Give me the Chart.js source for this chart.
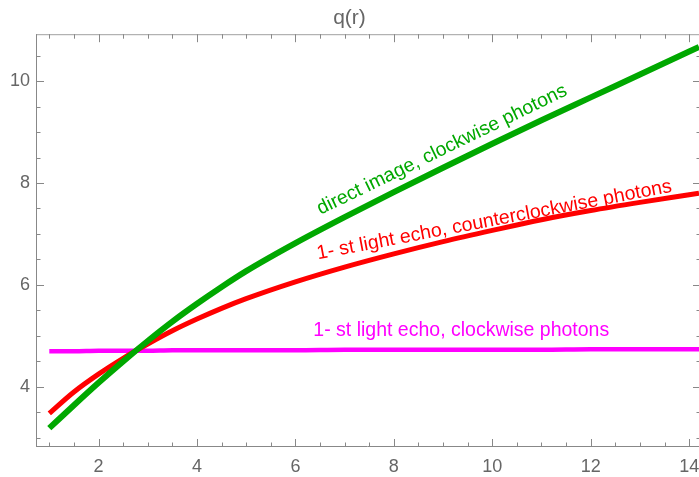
<!DOCTYPE html>
<html>
<head>
<meta charset="utf-8">
<script src="https://cdn.jsdelivr.net/npm/chart.js@4/dist/chart.umd.min.js"></script>
<style>
    html, body { margin: 0; padding: 0; background: #fff; }
    #wrap { width: 699px; height: 477px; }
</style>
</head>
<body>
<div id="wrap"><canvas id="myChart"></canvas></div>
<script>
// values
r_ls = [1, 1.5, 2, 2.5, 3, 3.5, 4, 4.5, 5, 6, 7, 8, 9, 10, 11, 12, 13, 14, 14.2];
direct_ls = [3.19, 3.64, 4.08, 4.5, 4.9, 5.28, 5.63, 5.96, 6.27, 6.82, 7.33, 7.82, 8.3, 8.77, 9.23, 9.68, 10.13, 10.58, 10.67];
echo_ccw_ls = [3.48, 3.9, 4.25, 4.56, 4.84, 5.1, 5.33, 5.54, 5.73, 6.06, 6.35, 6.61, 6.85, 7.07, 7.28, 7.46, 7.62, 7.77, 7.8];
echo_cw_ls = [4.7, 4.7, 4.71, 4.71, 4.71, 4.72, 4.72, 4.72, 4.72, 4.72, 4.73, 4.73, 4.73, 4.73, 4.73, 4.74, 4.74, 4.74, 4.74];
x_ticks = [2, 4, 6, 8, 10, 12, 14];
y_ticks = [4, 6, 8, 10];

labels_ls = ['direct image, clockwise photons', '1- st light echo, counterclockwise photons', '1- st light echo, clockwise photons'];

corlor_ls = ['#00a800', '#ff0000', '#ff00ff'];
var fontFam = "'Liberation Sans', Arial, sans-serif";

function toPts(ys) {
    return r_ls.map((x, i) => ({ x: x, y: ys[i] }));
}

// mathematica style frame with inward ticks (right edge is cut off in the picture)
var framePlugin = {
    id: 'frame',
    afterDatasetsDraw(chart) {
        var ctx = chart.ctx, a = chart.chartArea;
        var xs = chart.scales.x, ys = chart.scales.y;
        ctx.save();
        ctx.lineWidth = 1;
        ctx.strokeStyle = '#a0a0a0';
        ctx.beginPath();
        ctx.moveTo(a.left, a.top + 0.5); ctx.lineTo(a.right, a.top + 0.5);
        ctx.stroke();
        ctx.strokeStyle = '#888';
        ctx.beginPath();
        ctx.moveTo(a.left + 0.5, a.top); ctx.lineTo(a.left + 0.5, a.bottom);
        ctx.moveTo(a.left, a.bottom - 0.5); ctx.lineTo(a.right, a.bottom - 0.5);
        ctx.stroke();
        ctx.strokeStyle = '#888';
        ctx.beginPath();
        for (let v = 1; v <= 14.01; v += 0.5) {
            var px = Math.round(xs.getPixelForValue(v)) + 0.5;
            var len = (v % 2 == 0) ? 8 : 4.5;
            ctx.moveTo(px, a.bottom); ctx.lineTo(px, a.bottom - len);
            ctx.moveTo(px, a.top); ctx.lineTo(px, a.top + len);
        }
        for (let v = 3; v <= 10.51; v += 0.5) {
            var py = Math.round(ys.getPixelForValue(v)) + 0.5;
            var len = (v % 2 == 0) ? 8 : 4.5;
            ctx.moveTo(a.left, py); ctx.lineTo(a.left + len, py);
            ctx.moveTo(a.right + 2, py); ctx.lineTo(a.right + 2 - len, py);
        }
        ctx.stroke();

        // curve labels
        var lab = chart.options.plugins.frame.labels;
        ctx.font = '19.5px ' + fontFam;
        ctx.textAlign = 'center';
        ctx.textBaseline = 'middle';
        lab.forEach(function (l) {
            ctx.save();
            ctx.translate(xs.getPixelForValue(l.x), ys.getPixelForValue(l.y));
            ctx.rotate(-l.angle * Math.PI / 180);
            ctx.fillStyle = l.color;
            ctx.fillText(l.text, 0, 0);
            ctx.restore();
        });
        ctx.restore();
    }
};

var canvas = document.getElementById('myChart');
var data2 = {
    datasets: [
        { label: labels_ls[0], data: toPts(direct_ls), borderColor: corlor_ls[0], borderWidth: 6 },
        { label: labels_ls[1], data: toPts(echo_ccw_ls), borderColor: corlor_ls[1], borderWidth: 5 },
        { label: labels_ls[2], data: toPts(echo_cw_ls), borderColor: corlor_ls[2], borderWidth: 4.5 }
    ]
};

var myChart = new Chart(canvas, {
    type: 'line',
    data: data2,
    options: {
        responsive: true,
        maintainAspectRatio: false,
        animation: false,
        layout: { padding: { left: 0, right: 0, top: 0, bottom: 0 } },
        elements: {
            point: { radius: 0 },
            line: { cubicInterpolationMode: 'monotone', borderCapStyle: 'butt' }
        },
        plugins: {
            legend: { display: false },
            tooltip: { enabled: false },
            title: {
                display: true,
                text: 'q(r)',
                color: '#666',
                font: { family: fontFam, size: 21, weight: 'normal' },
                padding: { top: 6, bottom: 3 }
            },
            frame: {
                labels: [
                    { text: labels_ls[0], x: 8.98, y: 8.65, angle: 25.9, color: corlor_ls[0] },
                    { text: labels_ls[1], x: 10.04, y: 7.27, angle: 10.8, color: corlor_ls[1] },
                    { text: labels_ls[2], x: 9.37, y: 5.11, angle: 0, color: corlor_ls[2] }
                ]
            }
        },
        scales: {
            x: {
                type: 'linear',
                min: 0.73,
                max: 14.2,
                grid: { display: false, drawTicks: false },
                border: { display: false },
                afterBuildTicks: function (s) { s.ticks = x_ticks.map(v => ({ value: v })); },
                afterFit: function (s) { s.height = 30; s.paddingLeft = 0; s.paddingRight = 0; },
                ticks: { color: '#666', padding: 9, maxRotation: 0, autoSkip: false, font: { family: fontFam, size: 18 } }
            },
            y: {
                type: 'linear',
                min: 2.82,
                max: 10.92,
                grid: { display: false, drawTicks: false },
                border: { display: false },
                afterBuildTicks: function (s) { s.ticks = y_ticks.map(v => ({ value: v })); },
                afterFit: function (s) { s.width = 36; s.paddingTop = 0; s.paddingBottom = 0; },
                ticks: { color: '#666', padding: 6, font: { family: fontFam, size: 18 } }
            }
        }
    },
    plugins: [framePlugin]
});
</script>
</body>
</html>
